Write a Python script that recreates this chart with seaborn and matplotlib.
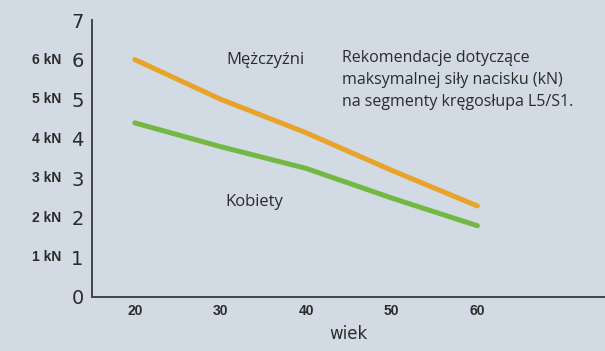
import numpy as np
import pandas as pd
import matplotlib
matplotlib.use('Agg')
import matplotlib.pyplot as plt
import matplotlib.transforms as mtransforms
import seaborn as sns

# dane
wiek = [20, 30, 40, 50, 60]
mezczyzni = [6.0, 5.0, 4.15, 3.2, 2.3]
kobiety = [4.4, 3.8, 3.25, 2.5, 1.8]
y_ticks = [0, 1, 2, 3, 4, 5, 6, 7]
kn_labels = ["1 kN", "2 kN", "3 kN", "4 kN", "5 kN", "6 kN"]
opis = "Rekomendacje dotyczące\nmaksymalnej siły nacisku (kN)\nna segmenty kręgosłupa L5/S1."

BG = "#d2dae3"
TXT = "#2b2b2b"

df = pd.DataFrame({
    "wiek": wiek * 2,
    "sila": mezczyzni + kobiety,
    "plec": ["Mężczyźni"] * len(wiek) + ["Kobiety"] * len(wiek),
})

sns.set_style("white")
plt.rcParams['font.family'] = ['DejaVu Sans']

fig = plt.figure(figsize=(6.05, 3.51), dpi=100, facecolor=BG)
ax = fig.add_axes([0.152, 0.154, 0.848, 0.789])
ax.set_facecolor(BG)

sns.lineplot(data=df, x="wiek", y="sila", hue="plec",
             palette={"Mężczyźni": "#e8a329", "Kobiety": "#72b843"},
             linewidth=3.6, legend=False, ax=ax,
             solid_capstyle="round")

ax.set_xlim(15, 74.9)
ax.set_ylim(0, 7)
ax.set_xticks(wiek)
ax.set_yticks(y_ticks)
ax.set_xticklabels([str(w) for w in wiek], fontsize=10, fontweight="bold",
                   family="Liberation Sans", color=TXT)
ax.set_yticklabels([str(t) for t in y_ticks], fontsize=14, color=TXT)
ax.tick_params(axis="x", direction="in", length=6, width=1.2, color="#444444", pad=5)
ax.tick_params(axis="y", direction="in", length=7, width=1.2, color="#444444", pad=6)

for side in ["top", "right"]:
    ax.spines[side].set_visible(False)
for side in ["left", "bottom"]:
    ax.spines[side].set_color("#444444")
    ax.spines[side].set_linewidth(1.4)

ax.set_xlabel("wiek", fontsize=12, color=TXT, labelpad=5)
ax.set_ylabel("")

# opisy kN po lewej
trans = mtransforms.blended_transform_factory(ax.transAxes, ax.transData)
for i, lab in enumerate(kn_labels, start=1):
    ax.text(-0.06, i, lab, transform=trans, ha="right", va="center",
            fontsize=10, fontweight="bold", family="Liberation Sans", color=TXT)

ax.text(35.3, 6.0, "Mężczyźni", fontsize=12, color=TXT, ha="center", va="center",
        family="Open Sans")
ax.text(34.0, 2.4, "Kobiety", fontsize=12, color=TXT, ha="center", va="center",
        family="Open Sans")
ax.text(44.2, 6.25, opis, fontsize=11.5, color=TXT, ha="left", va="top",
        family="Open Sans", linespacing=1.5)

fig.savefig("out.png", dpi=100, facecolor=BG)
